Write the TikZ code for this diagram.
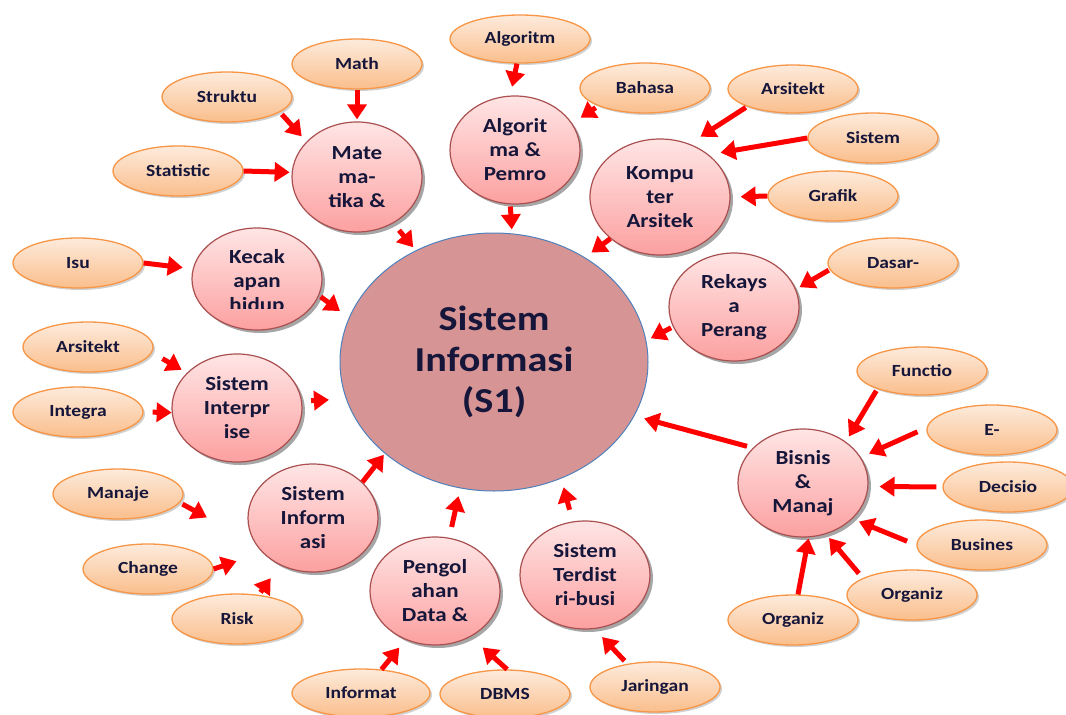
\documentclass[tikz,border=0pt]{standalone}
\usepackage{fontspec}
\setmainfont{Carlito}[FakeStretch=1.15]
\usetikzlibrary{arrows.meta,shapes.geometric,shadows}
\definecolor{pinkT}{RGB}{255,229,229}
\definecolor{pinkD}{RGB}{252,160,160}
\definecolor{pinkB}{RGB}{170,80,80}
\definecolor{orT}{RGB}{253,235,220}
\definecolor{orD}{RGB}{250,190,140}
\definecolor{orB}{RGB}{247,150,70}
\definecolor{cenF}{RGB}{214,148,148}
\definecolor{cenB}{RGB}{79,129,189}
\definecolor{txt}{RGB}{22,22,58}
\definecolor{arrred}{RGB}{255,0,0}
\begin{document}
\begin{tikzpicture}[x=1pt,y=-1pt,
  cenc/.style={ellipse, draw=cenB, line width=1pt, fill=cenF, minimum width=308pt, minimum height=258pt, inner sep=0pt, align=center, text=txt, font=\bfseries\fontsize{35}{41}\selectfont},
  pinkc/.style={ellipse, draw=pinkB, line width=1.2pt, top color=pinkT, bottom color=pinkD, minimum width=130pt, minimum height=108pt, inner sep=0pt, align=center, text=txt, font=\bfseries\fontsize{20}{24}\selectfont, drop shadow={shadow xshift=3pt, shadow yshift=-3pt, fill=black, opacity=0.35}},
  pinktext/.style={inner sep=0pt, align=center, text=txt, font=\bfseries\fontsize{20}{24}\selectfont},
  orc/.style={ellipse, draw=orB, line width=1.3pt, top color=orT, bottom color=orD, minimum width=130pt, minimum height=50pt, inner sep=0pt, text=txt, font=\bfseries\fontsize{17}{20}\selectfont, drop shadow={shadow xshift=2pt, shadow yshift=-2pt, fill=black, opacity=0.18}},
  arr/.style={draw=arrred, line width=5pt, -{Triangle[length=15pt,width=19pt]}}]
\useasboundingbox (0,0) rectangle (1066,715);
\fill[white] (0,0) rectangle (1066,715);

% central
\node[cenc] (si) at (494,362) {Sistem\\Informasi\\(S1)};

% pink circles
\node[pinkc, minimum height=110pt] (mate) at (357,177) {Mate\\ma-\\tika \&};
\node[pinkc, minimum height=102pt] (kec) at (257,279) {};
\begin{scope}
\clip (180,220) rectangle (340,308);
\node[pinktext] (kect) at (257,282) {Kecak\\apan\\hidup};
\end{scope}
\node[pinkc] (alg) at (515,150) {Algorit\\ma \&\\Pemro};
\node[pinkc, minimum width=140pt, minimum height=116pt] (komp) at (660,197) {Kompu\\ter\\Arsitek};
\node[pinkc] (rek) at (734,307) {Rekays\\a\\Perang};
\node[pinkc] (sint) at (237,408) {Sistem\\Interpr\\ise};
\node[pinkc] (sinf) at (313,518) {Sistem\\Inform\\asi};
\node[pinkc] (peng) at (435,591) {Pengol\\ahan\\Data \&};
\node[pinkc] (sdis) at (585,575) {Sistem\\Terdist\\ri-busi};
\node[pinkc] (bis) at (803,483) {Bisnis\\\&\\Manaj};

% orange ellipses
\node[orc] (math) at (357,64) {Math};
\node[orc] (struk) at (227,97) {Struktu};
\node[orc] (stat) at (178,171) {Statistic};
\node[orc] (isu) at (78,263) {Isu};
\node[orc] (arsL) at (88,347) {Arsitekt};
\node[orc] (integ) at (78,412) {Integra};
\node[orc] (manaje) at (118,494) {Manaje};
\node[orc] (change) at (148,569) {Change};
\node[orc] (risk) at (237,619) {Risk};
\node[orc, minimum width=138pt, minimum height=48pt] (inform) at (361,693) {Informat};
\node[orc, minimum height=48pt] (dbms) at (505,694) {DBMS};
\node[orc] (jar) at (655,687) {Jaringan};
\node[orc, minimum width=140pt, minimum height=48pt] (algo) at (520,39) {Algoritm};
\node[orc] (bah) at (645,88) {Bahasa};
\node[orc, minimum height=48pt] (arsR) at (793,89) {Arsitekt};
\node[orc] (sisR) at (873,138) {Sistem};
\node[orc] (graf) at (833,196) {Grafik};
\node[orc] (dasar) at (893,263) {Dasar-};
\node[orc, minimum height=48pt] (func) at (922,371) {Functio};
\node[orc] (ee) at (992,430) {E-};
\node[orc] (dec) at (1008,487) {Decisio};
\node[orc] (bus) at (982,545) {Busines};
\node[orc] (orgM) at (912,595) {Organiz};
\node[orc] (orgB) at (793,620) {Organiz};

% arrows
\draw[arr, shorten >=2pt] (math.south) -- (mate.north);
\draw[arr, shorten <=3pt, shorten >=7pt] (struk.-16) -- (mate.145.6);
\draw[arr, shorten >=2pt] (stat.east) -- (mate.176);
\draw[arr, shorten <=9pt, shorten >=4pt] (mate.-52) -- (si.125.7);
\draw[arr, shorten >=10pt] (isu.east) -- (kec.171.4);
\draw[arr, shorten <=2pt, shorten >=11pt] (kec.-15) -- (si.163.5);
\draw[arr, shorten <=12pt, shorten >=6pt] (arsL.-5) -- (sint.145.2);
\draw[arr, shorten <=9pt] (integ.east) -- (sint.184);
\draw[arr, shorten <=9pt, shorten >=17pt] (sint.6) -- (si.194.5);
\draw[arr, shorten <=3pt, shorten >=55pt] (manaje.-8) -- (sinf.204);
\draw[arr, shorten >=27pt] (change.east) -- (sinf.214.8);
\draw[arr, shorten <=3pt, shorten >=16pt] (risk.48.5) -- (sinf.235.8);
\draw[arr, shorten >=1.5pt] (sinf.36) -- (si.220.5);
\draw[arr, shorten <=11pt, shorten >=8pt] (peng.75) -- (si.255.7);
\draw[arr, shorten >=10pt] (inform.49) -- (peng.239.5);
\draw[arr, shorten >=16pt] (dbms.85) -- (peng.-52);
\draw[arr, shorten <=12pt, shorten >=9pt] (sdis.103) -- (si.-60.3);
\draw[arr, shorten <=4pt, shorten >=11pt] (jar.140) -- (sdis.-80.1);
\draw[arr, shorten <=6pt, shorten >=10pt] (bis.145.4) -- (si.-21.8);
\draw[arr, shorten <=2pt, shorten >=6pt] (func.202.9) -- (bis.44.3);
\draw[arr, shorten <=10pt, shorten >=9pt] (ee.178.5) -- (bis.24.4);
\draw[arr, shorten <=6pt, shorten >=11pt] (dec.west) -- (bis.-3.5);
\draw[arr, shorten <=10pt, shorten >=7pt] (bus.west) -- (bis.-36.5);
\draw[arr, shorten <=6pt, shorten >=5pt] (orgM.161.9) -- (bis.-66.6);
\draw[arr, shorten >=1pt] (orgB.79) -- (bis.-84.5);
\draw[arr, shorten <=2pt, shorten >=5pt] (rek.198.7) -- (si.8.25);
\draw[arr, shorten <=1pt, shorten >=4pt] (dasar.186) -- (rek.16.3);
\draw[arr, shorten >=8pt] (komp.220.5) -- (si.49.4);
\draw[arr, shorten <=1.5pt, shorten >=13pt] (arsR.201.4) -- (komp.61.4);
\draw[arr, shorten >=12pt] (sisR.west) -- (komp.41);
\draw[arr, shorten >=10pt] (graf.west) -- (komp.east);
\draw[arr, shorten <=3pt, shorten >=10pt] (bah.201.6) -- (alg.25.1);
\draw[arr, shorten >=9pt] (algo.-97) -- (alg.95.1);
\draw[arr, shorten <=2pt, shorten >=4pt] (alg.-95) -- (si.82.9);
\end{tikzpicture}
\end{document}
